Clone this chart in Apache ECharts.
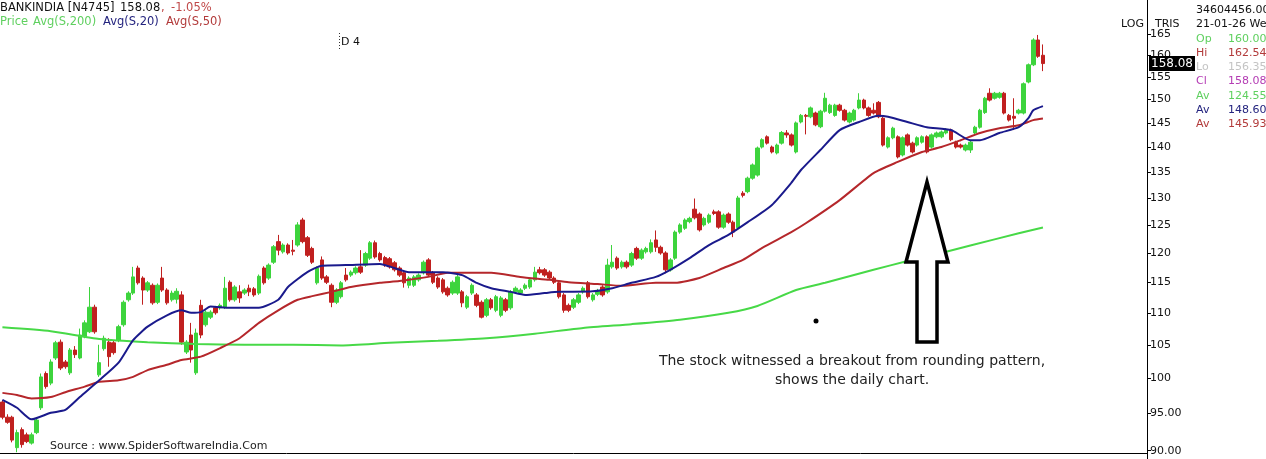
<!DOCTYPE html>
<html>
<head>
<meta charset="utf-8">
<script src="https://cdn.jsdelivr.net/npm/echarts@6/dist/echarts.min.js"></script>
<style>
  html, body { margin: 0; padding: 0; background: #fff; }
  #chart { width: 1266px; height: 459px; }
</style>
</head>
<body>
<div id="chart"></div>
<script>
// daily candles, [open, close, low, high]
const ohlc = [
  [96.6, 94.5, 94.2, 96.9], [94.5, 93.8, 93.6, 94.9], [94.5, 91.4, 91.1, 94.7], [90.4, 92.4, 89.8, 92.8],
  [92.8, 90.8, 90.4, 93.1], [92.1, 91.2, 91.0, 92.4], [91.0, 92.1, 90.8, 92.4], [92.4, 94.1, 92.2, 94.5],
  [95.8, 100.2, 95.5, 100.7], [100.7, 98.8, 98.5, 101.0], [99.3, 102.4, 99.0, 102.8], [103.0, 105.3, 102.7, 105.6],
  [105.4, 101.5, 101.2, 105.8], [102.4, 101.7, 101.4, 102.7], [100.8, 104.2, 100.5, 104.5], [104.2, 103.5, 103.0, 104.8],
  [103.0, 106.5, 102.8, 107.5], [106.2, 108.4, 106.0, 108.8], [107.0, 110.9, 106.8, 114.2], [110.9, 107.0, 106.7, 111.3],
  [100.5, 102.3, 100.2, 105.0], [104.4, 106.0, 104.1, 106.4], [105.4, 103.2, 101.7, 106.0], [105.3, 103.8, 103.5, 105.7],
  [105.7, 107.8, 105.4, 108.1], [108.1, 111.7, 107.8, 112.0], [112.1, 113.2, 111.8, 113.5], [113.2, 115.9, 112.9, 117.6],
  [117.4, 114.9, 114.6, 117.8], [115.7, 113.7, 111.3, 116.0], [113.7, 114.9, 113.4, 115.2], [114.5, 111.6, 111.3, 114.8],
  [111.7, 114.5, 111.4, 114.8], [115.7, 113.7, 113.4, 117.6], [113.7, 111.6, 111.3, 114.0], [112.1, 113.2, 111.8, 113.6],
  [112.2, 113.5, 111.5, 114.0], [112.9, 105.4, 105.0, 113.5], [103.9, 105.4, 103.6, 105.7], [106.5, 104.2, 102.3, 108.4],
  [100.8, 106.8, 100.5, 107.5], [111.2, 106.5, 106.0, 112.1], [108.1, 110.1, 107.8, 110.4], [109.3, 110.1, 109.0, 110.4],
  [110.8, 110.0, 109.7, 111.1], [110.8, 111.2, 110.5, 111.5], [110.9, 114.0, 110.6, 115.9], [115.0, 112.1, 111.8, 115.3],
  [112.1, 114.2, 111.8, 114.5], [113.4, 112.4, 111.6, 114.5], [113.2, 113.7, 112.9, 114.0], [114.0, 113.4, 112.7, 114.6],
  [113.9, 112.9, 112.6, 114.2], [113.2, 116.0, 112.9, 116.3], [117.4, 114.9, 114.6, 117.7], [115.7, 117.9, 115.4, 118.2],
  [118.4, 121.1, 118.1, 121.4], [122.0, 120.5, 119.6, 123.2], [120.2, 121.4, 119.9, 121.7], [121.4, 120.0, 119.7, 121.7],
  [120.5, 120.3, 119.6, 122.3], [121.4, 125.0, 121.1, 125.5], [125.9, 122.0, 121.7, 126.3], [122.7, 119.6, 119.3, 123.0],
  [120.8, 118.4, 118.1, 121.1], [114.9, 117.4, 114.6, 117.7], [118.8, 115.7, 115.4, 119.4], [115.9, 115.0, 114.7, 116.2],
  [114.5, 111.7, 110.9, 114.8], [111.7, 113.7, 111.4, 114.0], [112.6, 114.9, 112.3, 115.2], [116.2, 115.4, 115.1, 117.4],
  [116.2, 116.7, 115.9, 117.0], [116.6, 117.4, 116.3, 117.7], [117.6, 116.7, 116.4, 120.5], [117.9, 119.9, 117.6, 120.2],
  [119.1, 121.8, 118.8, 122.1], [121.8, 119.3, 119.0, 122.2], [119.9, 118.8, 118.5, 120.2], [119.2, 117.9, 117.6, 119.5],
  [119.0, 117.6, 117.3, 119.3], [118.3, 117.1, 116.8, 118.6], [117.4, 116.2, 115.9, 117.7], [116.6, 114.9, 114.1, 116.9],
  [114.5, 115.7, 114.0, 116.0], [114.5, 115.9, 114.2, 116.2], [115.4, 116.2, 115.1, 116.5], [116.6, 118.4, 116.3, 118.7],
  [118.8, 116.2, 115.9, 119.1], [116.6, 115.0, 114.7, 116.9], [115.7, 114.2, 113.9, 116.0], [115.4, 113.4, 113.1, 115.7],
  [114.0, 112.9, 112.6, 114.3], [113.2, 115.0, 112.9, 115.3], [113.2, 115.9, 112.9, 116.4], [113.4, 111.6, 110.9, 113.7],
  [110.9, 112.6, 110.6, 112.9], [113.2, 114.5, 112.9, 114.8], [112.9, 111.2, 110.9, 113.2], [111.7, 109.3, 109.1, 112.0],
  [109.6, 112.1, 109.3, 112.4], [112.1, 110.8, 110.5, 112.4], [110.4, 112.6, 110.1, 112.9], [109.6, 112.4, 109.3, 112.7],
  [112.1, 110.4, 110.1, 112.4], [110.8, 113.4, 110.5, 113.7], [113.4, 114.0, 113.1, 114.3], [113.2, 113.7, 112.9, 114.0],
  [114.0, 114.5, 113.7, 114.8], [114.2, 115.4, 113.9, 115.7], [115.4, 116.7, 115.1, 117.6], [117.1, 116.6, 116.3, 117.6],
  [117.1, 116.2, 115.9, 117.4], [116.7, 115.7, 115.4, 117.0], [115.7, 115.0, 114.7, 116.0], [114.9, 112.6, 112.3, 115.2],
  [112.9, 110.4, 110.0, 113.2], [111.2, 110.4, 110.1, 111.5], [110.9, 112.1, 110.6, 112.4], [111.7, 112.9, 111.4, 113.2],
  [113.4, 114.0, 113.1, 114.3], [114.9, 112.6, 112.3, 115.2], [112.1, 112.9, 111.8, 113.2], [113.0, 113.6, 112.7, 113.9],
  [114.2, 112.9, 112.6, 114.5], [113.4, 117.9, 113.1, 119.0], [117.6, 118.4, 117.3, 121.4], [119.1, 117.4, 117.1, 119.4],
  [117.6, 118.4, 117.3, 118.7], [118.4, 117.6, 117.3, 118.7], [117.9, 119.9, 117.6, 120.2], [120.8, 119.1, 118.8, 121.1],
  [119.1, 120.5, 118.8, 120.8], [120.2, 120.8, 119.9, 121.1], [120.2, 121.8, 119.9, 122.4], [122.3, 121.0, 120.2, 124.0],
  [121.0, 120.0, 119.7, 121.3], [120.0, 117.1, 116.5, 120.3], [117.1, 118.8, 116.8, 119.1], [119.1, 123.7, 118.8, 124.0],
  [123.7, 125.0, 123.4, 125.3], [124.4, 125.9, 124.1, 126.2], [125.6, 126.2, 125.3, 126.5], [127.9, 126.3, 126.0, 129.9],
  [127.0, 124.1, 123.8, 127.3], [125.0, 126.2, 124.7, 126.5], [125.5, 126.8, 125.2, 127.1], [127.4, 127.1, 126.8, 127.8],
  [127.4, 124.6, 124.3, 127.7], [124.6, 126.8, 124.3, 127.1], [127.0, 125.5, 125.2, 127.3], [125.5, 123.7, 122.8, 125.8],
  [124.5, 130.0, 124.2, 130.4], [130.9, 130.5, 130.1, 131.3], [131.2, 133.8, 130.9, 134.1], [133.8, 136.4, 133.5, 136.7],
  [134.4, 139.8, 134.1, 140.1], [140.0, 141.5, 139.7, 141.8], [142.1, 140.8, 140.5, 142.4], [140.0, 139.0, 138.7, 140.3],
  [138.8, 140.4, 138.5, 140.7], [140.8, 143.0, 140.5, 143.3], [142.9, 142.5, 141.9, 143.5], [142.5, 140.4, 140.1, 142.8],
  [139.0, 145.0, 138.7, 145.3], [145.2, 146.6, 144.9, 146.9], [146.6, 146.4, 142.6, 146.9], [146.3, 148.2, 146.0, 148.5],
  [147.1, 144.6, 144.3, 147.4], [144.2, 147.5, 143.9, 147.8], [147.5, 150.3, 147.2, 151.5], [147.2, 148.8, 146.9, 149.1],
  [146.6, 148.8, 146.3, 149.1], [148.8, 147.7, 147.4, 149.1], [147.7, 145.6, 145.3, 148.0], [145.2, 147.1, 144.9, 147.4],
  [145.6, 147.7, 145.3, 148.0], [148.2, 149.9, 147.9, 151.4], [149.9, 148.2, 147.9, 150.2], [148.2, 146.6, 146.3, 148.5],
  [147.7, 147.1, 146.8, 149.2], [149.4, 146.3, 146.0, 149.7], [146.0, 140.4, 140.1, 146.3], [140.0, 141.9, 139.7, 142.2],
  [141.9, 143.9, 141.6, 144.2], [142.1, 138.0, 137.7, 142.4], [138.4, 141.9, 138.1, 142.2], [142.5, 140.4, 140.1, 142.8],
  [140.8, 139.0, 138.7, 141.1], [140.4, 141.9, 140.1, 142.2], [141.0, 142.1, 140.7, 142.4], [142.1, 139.0, 138.7, 142.4],
  [140.0, 142.5, 139.7, 142.8], [142.1, 142.9, 141.8, 143.2], [142.1, 143.1, 141.8, 143.4], [142.9, 143.5, 142.6, 143.9],
  [143.5, 141.5, 141.2, 143.8], [141.0, 140.0, 139.7, 141.3], [140.4, 140.0, 139.7, 140.7], [139.4, 140.4, 139.1, 140.7],
  [139.4, 141.0, 138.8, 141.3], [142.9, 144.1, 142.6, 144.4], [144.1, 147.7, 143.8, 148.0], [147.2, 150.3, 146.9, 150.6],
  [151.4, 149.9, 149.6, 152.5], [150.3, 151.4, 150.0, 151.7], [150.5, 151.4, 150.2, 151.7], [151.4, 147.1, 146.8, 151.7],
  [146.6, 145.6, 145.3, 146.9], [146.4, 146.0, 143.5, 150.3], [147.1, 147.7, 146.8, 148.0], [147.1, 153.5, 146.8, 153.8],
  [153.9, 157.8, 153.6, 158.1], [157.8, 163.6, 157.5, 164.0], [163.6, 159.76, 159.4, 164.8], [160.00, 158.08, 156.35, 162.54]
];

// moving averages, [candle index, value]
const ma200 = [[0,107.7],[10,107.1],[20,105.9],[30,105.4],[40,105.1],[50,105.0],[60,105.0],[70,104.9],[80,105.3],
  [90,105.6],[100,106.0],[110,106.7],[120,107.6],[130,108.2],[140,108.9],[150,110.0],[156,111.1],[164,113.7],
  [170,114.9],[180,117.1],[187,118.6],[194,120.0],[200,121.3],[210,123.5],[215,124.55]];
const ma20 = [[0,96.9],[3,95.8],[6,94.2],[10,95.1],[13,95.5],[16,97.3],[20,99.7],[24,102.3],[27,105.7],[30,107.8],
  [34,109.6],[37,110.4],[39,110.0],[41,110.1],[43,111.0],[47,110.8],[53,110.8],[57,112.1],[59,114.2],[63,116.7],
  [66,117.8],[71,117.9],[78,118.1],[81,117.4],[84,116.7],[88,116.7],[91,116.7],[95,116.2],[98,114.9],[101,114.0],
  [105,113.4],[108,112.9],[112,113.2],[115,113.4],[122,113.5],[126,114.0],[130,114.9],[135,115.9],[138,117.1],
  [142,119.1],[146,121.4],[150,123.2],[154,125.5],[159,128.7],[163,132.9],[165,135.4],[169,139.4],[173,143.5],
  [177,145.2],[181,146.5],[183,146.3],[187,145.2],[191,144.1],[196,143.5],[200,141.4],[202,141.4],[206,142.9],
  [210,144.1],[212,146.0],[213,147.7],[215,148.6]];
const ma50 = [[0,97.9],[3,97.6],[6,97.1],[10,97.3],[13,98.0],[17,98.8],[20,99.5],[24,99.7],[27,100.2],[30,101.2],
  [34,102.0],[37,102.7],[41,103.2],[45,104.5],[49,106.0],[53,108.4],[57,110.4],[61,112.1],[64,112.7],[68,113.4],
  [72,114.2],[78,114.9],[82,115.2],[88,115.9],[92,116.6],[97,116.6],[101,116.6],[107,115.9],[113,115.4],[117,115.0],
  [123,114.7],[128,114.4],[135,114.9],[139,114.9],[144,115.7],[149,117.4],[153,118.8],[157,120.9],[163,123.7],
  [166,125.3],[173,129.6],[180,134.8],[185,137.0],[190,139.0],[194,140.0],[198,141.4],[202,142.9],[206,143.9],
  [210,144.5],[213,145.6],[215,145.93]];

const yTicks = [165, 160, 155, 150, 145, 140, 135, 130, 125, 120, 115, 110, 105, 100, 95, 90];
const lastClose = 158.08;
const infoRows = [
  ['Op', '160.00', '#5fd05f'], ['Hi', '162.54', '#b23a3a'], ['Lo', '156.35', '#c4c4c4'], ['Cl', '158.08', '#b43cb4'],
  ['Av', '124.55', '#5fd05f'], ['Av', '148.60', '#24247f'], ['Av', '145.93', '#b23a3a']
];

const slotCount = 237; // candles plus the empty space on the right
const slots = [];
for (let i = 0; i < slotCount; i++) slots.push(i);

const FONT = '"DejaVu Sans", Verdana, sans-serif';
const UP = '#3dd43d';
const DOWN = '#c0201f';

function txt(x, y, text, fill, size, align) {
  return {
    type: 'text', x: x, y: y, z: 50,
    style: {
      text: text, fill: fill, align: align || 'left', verticalAlign: 'middle',
      font: (size || 11) + 'px ' + FONT
    }
  };
}

const graphics = [
  txt(0, 8, 'BANKINDIA [N4745]', '#111', 11.5),
  txt(120, 8, '158.08', '#111', 11.5),
  txt(161, 8, ',', '#c04848', 11.5),
  txt(171, 8, '-1.05%', '#c04848', 11.5),
  txt(0, 22, 'Price', '#5fd05f', 11.5),
  txt(33, 22, 'Avg(S,200)', '#5fd05f', 11.5),
  txt(103, 22, 'Avg(S,20)', '#24247f', 11.5),
  txt(166, 22, 'Avg(S,50)', '#b23a3a', 11.5),
  txt(341, 42, 'D 4', '#111'),
  { type: 'line', shape: { x1: 339.5, y1: 33, x2: 339.5, y2: 50 }, style: { stroke: '#333', lineWidth: 1, lineDash: [1, 2] } },
  txt(1121, 24, 'LOG', '#111'),
  txt(1155, 24, 'TRIS', '#111'),
  txt(1196, 10, '34604456.00', '#111'),
  txt(1196, 24, '21-01-26 Wed', '#111'),
  txt(852, 361, 'The stock witnessed a breakout from rounding pattern,', '#222', 14, 'center'),
  txt(852, 380, 'shows the daily chart.', '#222', 14, 'center'),
  txt(50, 446, 'Source : www.SpiderSoftwareIndia.Com', '#222'),
  {
    type: 'polygon', z: 40,
    shape: { points: [[927, 182], [948, 262], [937, 262], [937, 342], [917, 342], [917, 262], [906, 262]] },
    style: { fill: '#fff', stroke: '#000', lineWidth: 3.5, lineJoin: 'miter' }
  },
  { type: 'circle', z: 40, shape: { cx: 816, cy: 321, r: 2.5 }, style: { fill: '#000' } },
  { type: 'line', shape: { x1: 1147.5, y1: 453, x2: 1147.5, y2: 459 }, style: { stroke: '#000', lineWidth: 1 } }
];
infoRows.forEach(function (r, k) {
  const y = 39 + k * 14.2;
  graphics.push(txt(1196, y, r[0], r[2]));
  graphics.push(txt(1228, y, r[1], r[2]));
});

const chart = echarts.init(document.getElementById('chart'));
chart.setOption({
  animation: false,
  backgroundColor: '#fff',
  grid: { left: 0, right: 119, top: 0, bottom: 6, containLabel: false, outerBoundsMode: 'none' },
  xAxis: {
    type: 'category', data: slots, boundaryGap: true,
    axisLine: { lineStyle: { color: '#000', width: 1 } },
    axisTick: { show: false }, axisLabel: { show: false }, splitLine: { show: false }
  },
  yAxis: {
    type: 'log', logBase: 10, position: 'right', min: 89.7, max: 173.4,
    axisLine: { show: true, lineStyle: { color: '#000', width: 1 } },
    axisTick: { show: true, length: 4, customValues: yTicks, lineStyle: { color: '#000' } },
    axisLabel: {
      customValues: yTicks, margin: 3, color: '#111', fontFamily: FONT, fontSize: 11,
      formatter: function (v) { return v < 100 ? Number(v).toFixed(2) : String(Math.round(v)); }
    },
    splitLine: { show: false }
  },
  series: [
    {
      type: 'candlestick', data: ohlc, barWidth: 4, clip: false,
      itemStyle: { color: UP, color0: DOWN, borderColor: UP, borderColor0: DOWN, borderWidth: 1 }
    },
    { type: 'line', data: ma200, smooth: 0.2, symbol: 'none', lineStyle: { color: '#47d947', width: 2 } },
    { type: 'line', data: ma50, smooth: 0.2, symbol: 'none', lineStyle: { color: '#b5272b', width: 2 } },
    {
      type: 'line', data: ma20, smooth: 0.2, symbol: 'none', lineStyle: { color: '#1a1a8c', width: 2 },
      markLine: {
        silent: true, symbol: ['none', 'none'], z: 60,
        lineStyle: { color: 'rgba(0,0,0,0)', width: 1, type: 'solid' },
        label: {
          show: true, position: 'end', distance: 2, formatter: '158.08', color: '#fff', backgroundColor: '#000',
          padding: [2, 2, 1, 2], fontFamily: FONT, fontSize: 12
        },
        data: [{ yAxis: lastClose }]
      }
    }
  ],
  graphic: graphics
});
</script>
</body>
</html>
